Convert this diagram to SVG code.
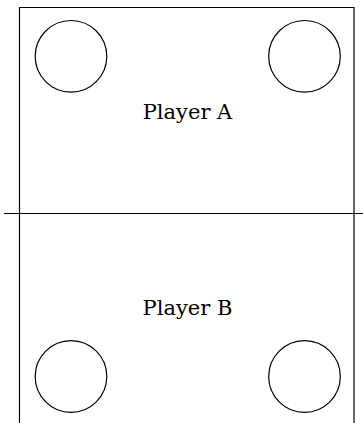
<svg xmlns="http://www.w3.org/2000/svg" width="363" height="423" viewBox="0 0 363 423">
<style>
.ln{fill:none;stroke:#000;stroke-width:1.2}
.c{fill:none;stroke:#000;stroke-width:1.2}
.t{font-family:"DejaVu Serif","Liberation Serif",serif;font-size:21px;fill:#000;text-anchor:middle}
</style>
<rect width="363" height="423" fill="#fff"/>
<g id="field">
<path class="ln" d="M19.5,424 V7.5 H354 V424"/>
<path class="ln" d="M4,213.5 H363"/>
</g>
<g id="playerA">
<circle class="c" cx="71" cy="56.3" r="35.8"/>
<circle class="c" cx="304.5" cy="56.3" r="35.8"/>
<text class="t" x="187.5" y="118.5">Player A</text>
</g>
<g id="playerB">
<circle class="c" cx="71" cy="376.5" r="35.8"/>
<circle class="c" cx="304.5" cy="376.5" r="35.8"/>
<text class="t" x="187.5" y="315">Player B</text>
</g>
</svg>
